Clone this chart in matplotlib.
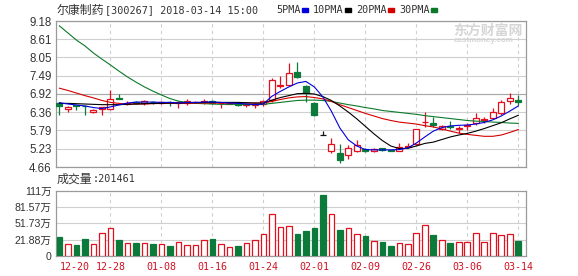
import numpy as np
import matplotlib
matplotlib.use("Agg")
import matplotlib.pyplot as plt
from matplotlib.patches import Rectangle

plt.rcParams['font.family'] = ['Liberation Sans', 'Noto Sans CJK SC']

# ==========================================
# DATA  (read off the 尔康制药 daily K-line)
# ==========================================
dates = ["12-20", "12-21", "12-22", "12-25", "12-26", "12-27", "12-28", "12-29",
         "01-02", "01-03", "01-04", "01-05", "01-08", "01-09", "01-10", "01-11",
         "01-12", "01-15", "01-16", "01-17", "01-18", "01-19", "01-22", "01-23",
         "01-24", "01-25", "01-26", "01-29", "01-30", "01-31", "02-01", "02-02",
         "02-05", "02-06", "02-07", "02-08", "02-09", "02-12", "02-13", "02-14",
         "02-22", "02-23", "02-26", "02-27", "02-28", "03-01", "03-02", "03-05",
         "03-06", "03-07", "03-08", "03-09", "03-12", "03-13", "03-14"]

opens = [6.64, 6.46, 6.58, 6.56, 6.37, 6.46, 6.46, 6.81, 6.62, 6.67,
         6.65, 6.68, 6.65, 6.68, 6.65, 6.65, 6.66, 6.66, 6.70, 6.63,
         6.62, 6.63, 6.57, 6.57, 6.60, 6.73, 7.17, 7.20, 7.61, 7.17,
         6.63, 5.65, 5.16, 5.08, 5.03, 5.16, 5.21, 5.17, 5.24, 5.19,
         5.17, 5.28, 5.37, 6.04, 6.01, 5.85, 5.93, 5.85, 5.93, 6.01,
         6.13, 6.17, 6.34, 6.71, 6.73]
highs = [6.67, 6.55, 6.59, 6.57, 6.45, 6.53, 7.04, 6.93, 6.69, 6.70,
         6.73, 6.70, 6.70, 6.69, 6.69, 6.76, 6.70, 6.76, 6.72, 6.67,
         6.66, 6.64, 6.62, 6.63, 6.74, 7.42, 7.49, 7.87, 7.92, 7.20,
         6.68, 5.77, 5.55, 5.36, 5.34, 5.50, 5.24, 5.26, 5.26, 5.20,
         5.41, 5.39, 5.84, 6.37, 6.22, 5.96, 6.09, 5.93, 6.03, 6.34,
         6.22, 6.48, 6.73, 6.94, 6.89]
lows = [6.27, 6.37, 6.42, 6.27, 6.33, 6.27, 6.42, 6.75, 6.57, 6.62,
        6.58, 6.62, 6.60, 6.55, 6.49, 6.58, 6.63, 6.61, 6.62, 6.49,
        6.60, 6.55, 6.53, 6.48, 6.55, 6.68, 7.10, 7.18, 7.40, 6.68,
        6.25, 5.65, 5.08, 4.77, 4.90, 5.12, 5.13, 5.12, 5.15, 5.14,
        5.14, 5.24, 5.34, 5.91, 5.91, 5.79, 5.85, 5.70, 5.80, 5.97,
        6.03, 6.14, 6.27, 6.61, 6.58]
closes = [6.55, 6.53, 6.56, 6.54, 6.42, 6.51, 6.76, 6.76, 6.64, 6.65,
          6.69, 6.66, 6.67, 6.66, 6.66, 6.70, 6.67, 6.70, 6.65, 6.65,
          6.64, 6.59, 6.61, 6.61, 6.71, 7.35, 7.20, 7.56, 7.44, 6.96,
          6.27, 5.65, 5.36, 4.88, 5.24, 5.34, 5.17, 5.21, 5.19, 5.15,
          5.29, 5.30, 5.83, 6.06, 5.95, 5.93, 5.89, 5.86, 5.96, 6.17,
          6.14, 6.37, 6.68, 6.79, 6.68]

# volume in 万 shares
volumes = [27.5, 13.8, 12.6, 23.7, 13.8, 34.3, 43.6, 21.9, 15.7, 15.7,
           15.7, 14.4, 13.8, 10.7, 17.5, 12.6, 12.6, 21.3, 23.7, 13.8,
           8.8, 10.7, 15.7, 21.3, 32.4, 69.7, 45.5, 47.4, 33.1, 38.7,
           42.4, 103.9, 69.7, 40.5, 43.6, 32.4, 29.3, 19.4, 18.2, 10.7,
           15.7, 13.8, 34.3, 49.2, 31.2, 21.3, 16.3, 18.2, 18.2, 34.3,
           18.2, 34.3, 31.2, 32.4, 20.15]

ma5 = [6.65, 6.61, 6.58, 6.55, 6.50, 6.47, 6.52, 6.58, 6.64, 6.67,
       6.67, 6.67, 6.66, 6.66, 6.64, 6.66, 6.66, 6.67, 6.67, 6.66,
       6.64, 6.63, 6.61, 6.59, 6.61, 6.85, 7.00, 7.14, 7.26, 7.31,
       7.14, 6.83, 6.39, 5.87, 5.50, 5.31, 5.20, 5.19, 5.19, 5.19,
       5.20, 5.25, 5.40, 5.59, 5.77, 5.88, 5.93, 5.95, 5.96, 5.99,
       6.04, 6.12, 6.24, 6.39, 6.55]
ma10 = [6.63, 6.63, 6.62, 6.61, 6.60, 6.59, 6.59, 6.59, 6.60, 6.61,
        6.62, 6.63, 6.63, 6.64, 6.64, 6.65, 6.65, 6.66, 6.66, 6.66,
        6.66, 6.66, 6.65, 6.64, 6.64, 6.73, 6.81, 6.87, 6.93, 6.94,
        6.92, 6.84, 6.72, 6.55, 6.36, 6.15, 5.92, 5.69, 5.48, 5.31,
        5.23, 5.24, 5.31, 5.39, 5.43, 5.51, 5.59, 5.65, 5.70, 5.77,
        5.85, 5.94, 6.03, 6.15, 6.26]
ma20 = [7.10, 7.03, 6.95, 6.87, 6.80, 6.72, 6.66, 6.63, 6.61, 6.61,
        6.61, 6.62, 6.63, 6.63, 6.63, 6.63, 6.64, 6.64, 6.64, 6.64,
        6.64, 6.64, 6.64, 6.64, 6.64, 6.69, 6.75, 6.80, 6.83, 6.84,
        6.81, 6.77, 6.69, 6.59, 6.50, 6.41, 6.32, 6.24, 6.16, 6.10,
        6.05, 6.02, 5.99, 5.94, 5.90, 5.84, 5.77, 5.71, 5.67, 5.64,
        5.61, 5.61, 5.65, 5.73, 5.82]
ma30 = [9.03, 8.81, 8.59, 8.41, 8.19, 8.00, 7.82, 7.63, 7.45, 7.29,
        7.14, 7.01, 6.89, 6.78, 6.70, 6.66, 6.63, 6.62, 6.61, 6.60,
        6.60, 6.60, 6.59, 6.59, 6.60, 6.63, 6.66, 6.69, 6.72, 6.73,
        6.73, 6.72, 6.69, 6.64, 6.59, 6.55, 6.50, 6.46, 6.41, 6.38,
        6.35, 6.32, 6.29, 6.25, 6.22, 6.19, 6.16, 6.13, 6.10, 6.08,
        6.07, 6.05, 6.04, 6.02, 6.01]

price_ticks = [4.66, 5.23, 5.79, 6.36, 6.92, 7.49, 8.05, 8.61, 9.18]
vol_ticks = [21.88, 51.73, 81.57, 111]
vol_labels = ["21.88万", "51.73万", "81.57万", "111万"]
label_idx = [0, 6, 12, 18, 24, 30, 36, 42, 48, 54]

# ==========================================
# STYLE
# ==========================================
RED = '#e2101e'
GREEN = '#0b7a3a'
GRID = '#cfcfcf'
TXT = '#333333'
W, H = 578, 276


def box(l, t, r, b):
    return [l / W, 1 - b / H, (r - l) / W, (b - t) / H]


x = np.arange(len(dates))
o = np.array(opens)
c = np.array(closes)
cols = [RED if cc > oo else (GREEN if cc < oo else '#111111') for oo, cc in zip(o, c)]
faces = ['white' if cc > oo else col for oo, cc, col in zip(o, c, cols)]
vcols = [RED if cc > oo else GREEN for oo, cc in zip(o, c)]
vfaces = ['white' if cc > oo else GREEN for oo, cc in zip(o, c)]

fig = plt.figure(figsize=(5.78, 2.76), dpi=100)
ax = fig.add_axes(box(56, 21, 525.5, 167))
axv = fig.add_axes(box(56, 191, 525.5, 256))

# ---- price panel ----
ax.set_xlim(-0.4, 54.85)
ax.set_ylim(4.66, 9.18)
for yv in price_ticks:
    ax.axhline(yv, color=GRID, lw=0.8, zorder=0.5)
ax.axhline(6.92, color='#a8a8a8', lw=0.8, zorder=0.6)
for xi in label_idx[1:]:
    ax.axvline(xi, color=GRID, lw=0.8, ls=(0, (3, 3)), zorder=0.5)

ax.vlines(x, lows, highs, colors=cols, lw=0.9, zorder=2)
ax.bar(x, np.maximum(np.abs(c - o), 0.004), bottom=np.minimum(o, c), width=0.7,
       color=faces, edgecolor=cols, lw=0.9, zorder=3)

ax.plot(x, ma30, color='#0a7a2a', lw=0.8, zorder=4)
ax.plot(x, ma20, color='#d40000', lw=0.8, zorder=4)
ax.plot(x, ma10, color='#000000', lw=0.8, zorder=4)
ax.plot(x, ma5, color='#0000dd', lw=0.8, zorder=4)

ax.set_yticks(price_ticks)
ax.set_yticklabels(["%.2f" % v for v in price_ticks])
ax.set_xticks([])
ax.tick_params(axis='y', length=0, pad=3, labelsize=8.3, labelcolor=TXT)

# ---- volume panel ----
vol_floor = -7.96
axv.set_xlim(-0.4, 54.85)
axv.set_ylim(vol_floor, 111)
for yv in vol_ticks[:-1]:
    axv.axhline(yv, color=GRID, lw=0.8, zorder=0.5)
for xi in label_idx[1:]:
    axv.axvline(xi, color=GRID, lw=0.8, ls=(0, (3, 3)), zorder=0.5)

axv.bar(x, np.array(volumes) - vol_floor, bottom=vol_floor, width=0.66,
        color=vfaces, edgecolor=vcols, lw=0.9, zorder=3)

axv.set_yticks([vol_floor] + vol_ticks)
axv.set_yticklabels(["0"] + vol_labels)
axv.tick_params(axis='y', length=0, pad=3, labelsize=7.6, labelcolor=TXT)
axv.set_xticks(label_idx)
axv.set_xticklabels([dates[i] for i in label_idx], family='DejaVu Sans Mono',
                    fontsize=7.2, color='#d01020')
axv.tick_params(axis='x', length=0, pad=4)
axv.get_xticklabels()[0].set_horizontalalignment('left')

for a in (ax, axv):
    for s in a.spines.values():
        s.set_color('#9a9a9a')
        s.set_linewidth(0.9)

# ---- header texts ----
fig.text(57 / W, 1 - 10 / H, "尔康制药", family='Noto Sans CJK SC', fontsize=8.6,
         color=TXT, va='center')
fig.text(105 / W, 1 - 10 / H, "[300267] 2018-03-14 15:00", family='DejaVu Sans Mono',
         fontsize=7.3, color=TXT, va='center')

legend = [("5PMA", 276, 302, '#0000dd'), ("10PMA", 313, 345, '#000000'),
          ("20PMA", 356, 388, '#d40000'), ("30PMA", 399, 431, '#0a7a2a')]
for name, tx, mx, col in legend:
    fig.text(tx / W, 1 - 10 / H, name, family='DejaVu Sans Mono', fontsize=7.3,
             color=TXT, va='center')
    fig.add_artist(Rectangle((mx / W, 1 - 11.5 / H), 6 / W, 3 / H, color=col,
                             transform=fig.transFigure))

fig.text(57 / W, 1 - 179 / H, "成交量", family='Noto Sans CJK SC', fontsize=8.6,
         color=TXT, va='center')
fig.text(93 / W, 1 - 179 / H, ":201461", family='DejaVu Sans Mono', fontsize=7.3,
         color=TXT, va='center')

# watermark
fig.text(453 / W, 1 - 31 / H, "东方财富网", family='Noto Sans CJK SC', fontsize=10,
         weight='bold', color='#d6d6d6', va='center')
fig.text(454 / W, 1 - 41 / H, "eastmoney.com", fontsize=5.8, weight='bold',
         color='#d6d6d6', va='center')

fig.savefig("out.png", dpi=100)
